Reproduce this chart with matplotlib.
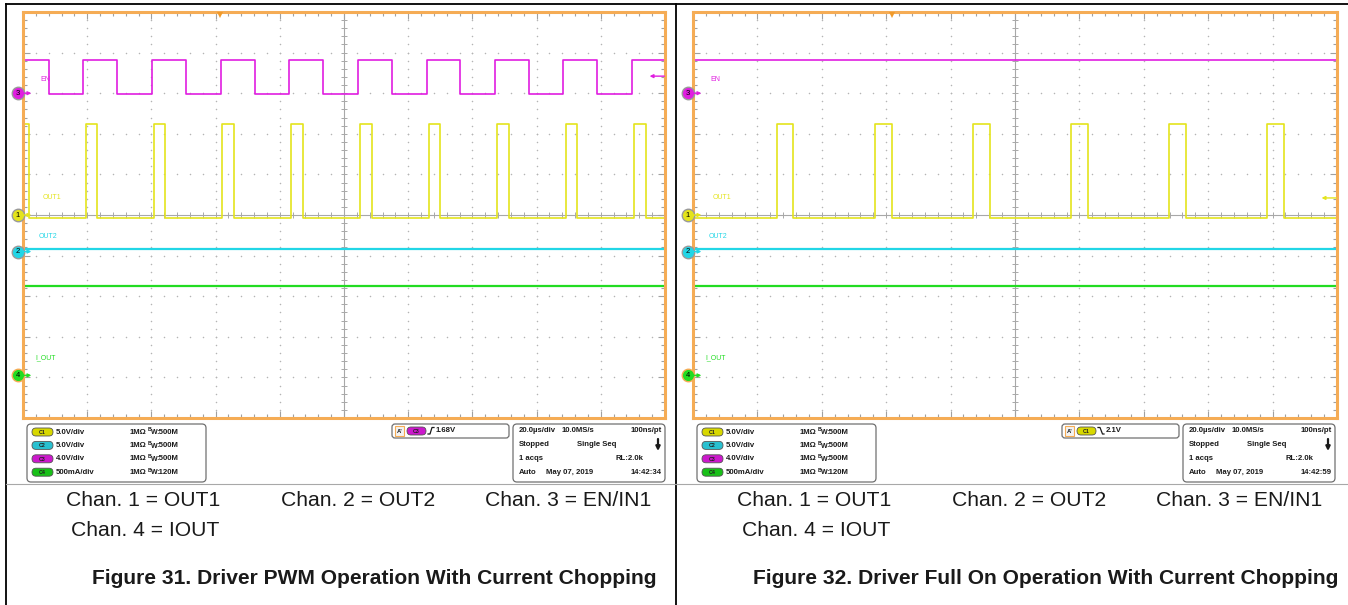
"""Two oscilloscope captures (Figure 31 / Figure 32) redrawn with matplotlib."""

import numpy as np
import matplotlib.pyplot as plt
import matplotlib.transforms as mtransforms
from matplotlib.patches import FancyBboxPatch, Rectangle

plt.rcParams['font.family'] = ['Liberation Sans', 'DejaVu Sans']

# ---------------------------------------------------------------- data
TIME_SPAN_US = 200.0          # 20 us/div x 10 div
CHANNELS = ['C1', 'C2', 'C3', 'C4']
CH_NAMES = {'C1': 'OUT1', 'C2': 'OUT2', 'C3': 'EN', 'C4': 'I_OUT'}
CH_NUMBERS = {'C1': '1', 'C2': '2', 'C3': '3', 'C4': '4'}
V_PER_DIV = {'C1': 5.0, 'C2': 5.0, 'C3': 4.0, 'C4': 0.5}
OFFSET_DIV = {'C1': 0.0, 'C2': -0.9, 'C3': 3.0, 'C4': -3.95}
SCALE_LABELS = ['5.0V/div', '5.0V/div', '4.0V/div', '500mA/div']
BANDWIDTHS = ['500M', '500M', '500M', '120M']

en_levels = [-0.05, 3.3]        # low / high, V
out1_levels = [-0.35, 11.2]     # low / high, V
out2_level = 0.35               # V
iout_level = 1.1                # A

# Figure 31 : PWM on EN, output chopping
fig31_en_edges = [8.1, 18.7, 29.3, 40.2, 50.8, 61.7, 72.3, 82.9, 93.5,
                  104.4, 115.0, 125.9, 136.1, 147.0, 157.6, 168.2, 178.8, 189.7]
fig31_en_start = 1
fig31_out1_edges = [1.9, 19.6, 23.1, 40.8, 44.2, 62.0, 65.7, 83.5, 87.2,
                    105.0, 108.7, 126.5, 129.9, 147.7, 151.4, 169.2, 172.6,
                    190.3, 194.1]
fig31_out1_start = 1
fig31_trigger = {'time': 61.4, 'ch': 'C3', 'slope': 'rise', 'level': 1.68}

# Figure 32 : EN held high, output chopping
fig32_en_edges = []
fig32_en_start = 1
fig32_out1_edges = [26.1, 31.1, 56.5, 61.8, 87.0, 92.2, 117.4, 122.7,
                    147.8, 153.1, 178.3, 183.6]
fig32_out1_start = 0
fig32_trigger = {'time': 61.8, 'ch': 'C1', 'slope': 'fall', 'level': 2.1}

acq_header = ['20.0\u00b5s/div', '10.0MS/s', '100ns/pt']
acq_state = ['Stopped', 'Single Seq']
acq_count = ['1 acqs', 'RL:2.0k']
acq_date = ['Auto', 'May 07, 2019']
fig31_clock = '14:42:34'
fig32_clock = '14:42:59'

captions = ['Chan. 1 = OUT1', 'Chan. 2 = OUT2', 'Chan. 3 = EN/IN1', 'Chan. 4 = IOUT']
fig31_title = 'Figure 31. Driver PWM Operation With Current Chopping'
fig32_title = 'Figure 32. Driver Full On Operation With Current Chopping'

# ---------------------------------------------------------------- style
W, H = 1348, 605
TRACE = {'C1': '#e4e41c', 'C2': '#22d6e6', 'C3': '#e01ee0', 'C4': '#22dc22'}
PILL = {'C1': '#d8d800', 'C2': '#28c0d0', 'C3': '#cc18cc', 'C4': '#18c018'}
ORANGE = '#f5ac55'
GRID = '#b4b4b4'
TEXT = '#1a1a1a'


def step_wave(edges, start, levels):
    """Build a step trace (times, values) from a list of toggle times."""
    t, v = [0.0], [levels[start]]
    state = start
    for e in edges:
        t += [e, e]
        v += [levels[state], levels[1 - state]]
        state = 1 - state
    t.append(TIME_SPAN_US)
    v.append(levels[state])
    return np.array(t), np.array(v)


def to_div(values, ch):
    return np.asarray(values, dtype=float) / V_PER_DIV[ch] + OFFSET_DIV[ch]


def px_axes(fig, x, y, w, h):
    return fig.add_axes([x / W, 1 - (y + h) / H, w / W, h / H])


def draw_screen(ax):
    """Graticule of the scope screen."""
    ax.set_xlim(0, TIME_SPAN_US)
    ax.set_ylim(-5, 5)
    ax.set_facecolor('white')

    # dotted graticule
    ys = np.arange(-5, 5.001, 0.2)
    xs = np.arange(0, TIME_SPAN_US + 0.01, 4)
    for xk in np.arange(20, TIME_SPAN_US, 20):
        if xk != 100:
            ax.plot(np.full(ys.size, xk), ys, ls='none', marker='o', ms=1.1,
                    mew=0, color=GRID, zorder=1)
    for yk in range(-4, 5):
        if yk != 0:
            ax.plot(xs, np.full(xs.size, yk), ls='none', marker='o', ms=1.1,
                    mew=0, color=GRID, zorder=1)

    # centre cross with small ticks
    ax.axhline(0, color='#a8a8a8', lw=0.8, zorder=1)
    ax.axvline(100, color='#a8a8a8', lw=0.8, zorder=1)
    ax.vlines(xs, -0.075, 0.075, color='#a8a8a8', lw=0.7, zorder=1)
    ax.hlines(ys, 100 - 0.95, 100 + 0.95, color='#a8a8a8', lw=0.7, zorder=1)

    ax.set_xticks(np.arange(0, TIME_SPAN_US + 0.01, 20))
    ax.set_xticks(xs, minor=True)
    ax.set_yticks(np.arange(-5, 5.01, 1))
    ax.set_yticks(ys, minor=True)
    ax.tick_params(which='both', direction='in', top=True, right=True,
                   labelbottom=False, labelleft=False, color='#a0a0a0', width=0.8)
    ax.tick_params(which='major', length=5)
    ax.tick_params(which='minor', length=3)
    for sp in ax.spines.values():
        sp.set_color(ORANGE)
        sp.set_linewidth(2.2)
        sp.set_zorder(5)


def draw_traces(ax, en_edges, en_start, out1_edges, out1_start, trigger):
    blend = mtransforms.blended_transform_factory(ax.transAxes, ax.transData)

    t, v = step_wave(en_edges, en_start, en_levels)
    ax.plot(t, to_div(v, 'C3'), color=TRACE['C3'], lw=1.2, zorder=3)
    t, v = step_wave(out1_edges, out1_start, out1_levels)
    ax.plot(t, to_div(v, 'C1'), color=TRACE['C1'], lw=1.2, zorder=3)
    ax.plot([0, TIME_SPAN_US], to_div([out2_level] * 2, 'C2'),
            color=TRACE['C2'], lw=1.6, zorder=3)
    ax.plot([0, TIME_SPAN_US], to_div([iout_level] * 2, 'C4'),
            color=TRACE['C4'], lw=1.6, zorder=3)

    # channel names
    name_pos = {'C3': 3.33, 'C1': 0.44, 'C2': -0.54, 'C4': -3.52}
    name_dx = {'C3': 0.027, 'C1': 0.031, 'C2': 0.025, 'C4': 0.019}
    for ch in CHANNELS:
        ax.text(name_dx[ch], name_pos[ch], CH_NAMES[ch], transform=blend,
                color=TRACE[ch], fontsize=5, va='center', ha='left', zorder=4)

    # ground reference markers on the left edge
    for ch in CHANNELS:
        off = OFFSET_DIV[ch]
        edge = ORANGE if ch == 'C4' else '#9a9a9a'
        ax.plot([-0.008], [off], marker='o', ms=9, mfc=TRACE[ch], mec=edge,
                mew=1.0, transform=blend, clip_on=False, zorder=6)
        ax.text(-0.008, off, CH_NUMBERS[ch], transform=blend, fontsize=5.5,
                ha='center', va='center', color='black', clip_on=False, zorder=7)
        ax.annotate('', xy=(0.013, off), xytext=(0.0, off), xycoords=blend,
                    textcoords=blend, annotation_clip=False,
                    arrowprops=dict(arrowstyle='-|>', color=TRACE[ch], lw=1.0,
                                    mutation_scale=5, shrinkA=0, shrinkB=0),
                    zorder=6)

    # trigger position and level
    ax.plot([trigger['time']], [4.93], marker='v', ms=5, color='#f09a2a',
            mew=0, clip_on=False, zorder=6)
    lvl = to_div([trigger['level']], trigger['ch'])[0]
    ax.annotate('', xy=(0.976, lvl), xytext=(0.999, lvl), xycoords=blend,
                textcoords=blend, annotation_clip=False,
                arrowprops=dict(arrowstyle='-|>', color=TRACE[trigger['ch']], lw=1.0,
                                mutation_scale=5, shrinkA=0, shrinkB=0),
                zorder=6)


def pill(bg, x, y, ch, w=21, h=8):
    bg.add_patch(FancyBboxPatch((x, y), w, h, boxstyle='round,pad=0,rounding_size=4',
                                fc=PILL[ch], ec='#555555', lw=0.6))
    bg.text(x + w / 2, y + h / 2 + 0.3, ch, fontsize=3.8, weight='bold',
            ha='center', va='center', color='#202020')


def draw_info(bg, dx, trigger, clock):
    # vertical settings box
    bg.add_patch(FancyBboxPatch((27 + dx, 424), 179, 58,
                                boxstyle='round,pad=0,rounding_size=4',
                                fc='white', ec='#707070', lw=0.9))
    for i, ch in enumerate(CHANNELS):
        y = 432 + i * 13.4
        pill(bg, 32 + dx, y - 4, ch)
        kw = dict(fontsize=5.6, weight='bold', color=TEXT, va='center', ha='left')
        bg.text(56 + dx, y, SCALE_LABELS[i], **kw)
        bg.text(130 + dx, y, '1M\u03a9', **kw)
        bg.text(148 + dx, y - 2.2, 'B', fontsize=3.8, weight='bold', color=TEXT,
                va='center', ha='left')
        bg.text(150.5 + dx, y + 0.8, 'W', fontsize=5, weight='bold', color=TEXT,
                va='center', ha='left')
        bg.text(156 + dx, y, ':' + BANDWIDTHS[i], **kw)

    # trigger box
    bg.add_patch(FancyBboxPatch((392 + dx, 424), 117, 14,
                                boxstyle='round,pad=0,rounding_size=3',
                                fc='white', ec='#707070', lw=0.9))
    bg.add_patch(Rectangle((395 + dx, 426), 9, 10, fc='#f2f2f2', ec=ORANGE, lw=0.8))
    bg.text(399.5 + dx, 431.3, "A'", fontsize=4.2, weight='bold', ha='center',
            va='center', color=TEXT)
    pill(bg, 407 + dx, 427, trigger['ch'], w=19)
    if trigger['slope'] == 'rise':
        sx = [428, 430, 432, 434]
        sy = [434, 434, 427.5, 427.5]
    else:
        sx = [428, 430, 432.5, 434]
        sy = [427.5, 427.5, 434, 434]
    bg.plot(np.array(sx) + dx, sy, color=TEXT, lw=0.9)
    bg.text(436 + dx, 431, '%gV' % trigger['level'], fontsize=5.6, weight='bold',
            color=TEXT, va='center', ha='left')

    # acquisition box
    bg.add_patch(FancyBboxPatch((513 + dx, 424), 152, 58,
                                boxstyle='round,pad=0,rounding_size=4',
                                fc='white', ec='#707070', lw=0.9))
    kw = dict(fontsize=5.6, weight='bold', color=TEXT, va='center')
    bg.text(519 + dx, 431, acq_header[0], ha='left', **kw)
    bg.text(562 + dx, 431, acq_header[1], ha='left', **kw)
    bg.text(662 + dx, 431, acq_header[2], ha='right', **kw)
    bg.text(519 + dx, 444.5, acq_state[0], ha='left', **kw)
    bg.text(577 + dx, 444.5, acq_state[1], ha='left', **kw)
    bg.annotate('', xy=(658 + dx, 451), xytext=(658 + dx, 439),
                arrowprops=dict(arrowstyle='-|>', color=TEXT, lw=1.6,
                                mutation_scale=6, shrinkA=0, shrinkB=0))
    bg.text(519 + dx, 458, acq_count[0], ha='left', **kw)
    bg.text(615 + dx, 458, acq_count[1], ha='left', **kw)
    bg.text(519 + dx, 472, acq_date[0], ha='left', **kw)
    bg.text(546 + dx, 472, acq_date[1], ha='left', **kw)
    bg.text(662 + dx, 472, clock, ha='right', **kw)


def draw_captions(bg, dx, title, title_right):
    kw = dict(fontsize=15.2, color=TEXT, va='center', ha='left')
    bg.text(66 + dx, 500, captions[0], **kw)
    bg.text(281 + dx, 500, captions[1], **kw)
    bg.text(485 + dx, 500, captions[2], **kw)
    bg.text(71 + dx, 530, captions[3], **kw)
    bg.text(title_right, 579, title, fontsize=15.1, weight='bold', color=TEXT,
            va='center', ha='right')


fig = plt.figure(figsize=(W / 100, H / 100), dpi=100)
bg = fig.add_axes([0, 0, 1, 1], zorder=0)
bg.set_xlim(0, W)
bg.set_ylim(H, 0)
bg.axis('off')

# page frame lines
bg.plot([6, W], [4, 4], color='black', lw=1.3)
bg.plot([6, 6], [4, H], color='black', lw=1.3)
bg.plot([676, 676], [4, H], color='black', lw=1.3)
bg.plot([6, 676], [484, 484], color='#a8a8a8', lw=0.8)
bg.plot([676, W], [484, 484], color='#a8a8a8', lw=0.8)

ax31 = px_axes(fig, 23, 12, 642, 406)
ax31.set_zorder(1)
draw_screen(ax31)
draw_traces(ax31, fig31_en_edges, fig31_en_start, fig31_out1_edges,
            fig31_out1_start, fig31_trigger)

ax32 = px_axes(fig, 693, 12, 644, 406)
ax32.set_zorder(1)
draw_screen(ax32)
draw_traces(ax32, fig32_en_edges, fig32_en_start, fig32_out1_edges,
            fig32_out1_start, fig32_trigger)

draw_info(bg, 0, fig31_trigger, fig31_clock)
draw_info(bg, 670, fig32_trigger, fig32_clock)
draw_captions(bg, 0, fig31_title, 656)
draw_captions(bg, 671, fig32_title, 1338)

fig.savefig('out.png', dpi=100)
